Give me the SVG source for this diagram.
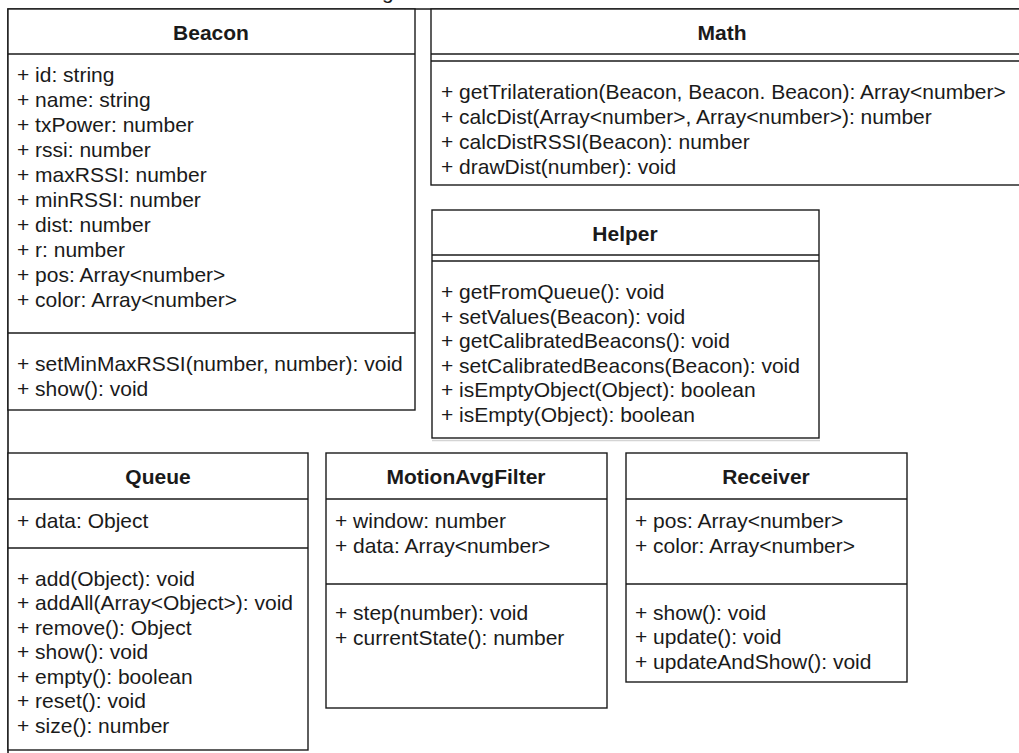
<svg xmlns="http://www.w3.org/2000/svg" width="1019" height="753" viewBox="0 0 1019 753">
<style>
  .box { fill: #ffffff; stroke: #1a1a1a; stroke-width: 1.4; }
  .sep { stroke: #1a1a1a; stroke-width: 1.4; fill: none; }
  .frame { stroke: #1a1a1a; stroke-width: 1.6; fill: none; }
  .shadow { stroke: #d4d4d4; stroke-width: 1.5; fill: none; }
  text { font-family: "Liberation Sans", Arial, Helvetica, sans-serif; font-size: 21px; fill: #1a1a1a; }
  .title { font-weight: bold; text-anchor: middle; }
</style>
<rect x="0" y="0" width="1019" height="753" fill="#ffffff"/>

<text x="382" y="-1">g</text>

<g id="connectors">
  <path class="frame" d="M1022,9 H8 V753"/>
</g>

<g id="Beacon">
  <rect class="box" x="8" y="9" width="407" height="401"/>
  <line class="sep" x1="8" y1="54" x2="415" y2="54"/>
  <line class="sep" x1="8" y1="333" x2="415" y2="333"/>
  <text class="title" x="211" y="40">Beacon</text>
  <text x="17" y="82">+ id: string</text>
  <text x="17" y="107">+ name: string</text>
  <text x="17" y="132">+ txPower: number</text>
  <text x="17" y="157">+ rssi: number</text>
  <text x="17" y="182">+ maxRSSI: number</text>
  <text x="17" y="207">+ minRSSI: number</text>
  <text x="17" y="232">+ dist: number</text>
  <text x="17" y="257">+ r: number</text>
  <text x="17" y="282">+ pos: Array&lt;number&gt;</text>
  <text x="17" y="307">+ color: Array&lt;number&gt;</text>
  <text x="17" y="371">+ setMinMaxRSSI(number, number): void</text>
  <text x="17" y="396">+ show(): void</text>
</g>

<g id="Math">
  <rect class="box" x="431" y="9" width="592" height="176"/>
  <line class="sep" x1="431" y1="54" x2="1023" y2="54"/>
  <line class="sep" x1="431" y1="61" x2="1023" y2="61"/>
  <text class="title" x="722" y="40">Math</text>
  <text x="441" y="99">+ getTrilateration(Beacon, Beacon. Beacon): Array&lt;number&gt;</text>
  <text x="441" y="124">+ calcDist(Array&lt;number&gt;, Array&lt;number&gt;): number</text>
  <text x="441" y="149">+ calcDistRSSI(Beacon): number</text>
  <text x="441" y="174">+ drawDist(number): void</text>
</g>

<g id="Helper">
  <line class="shadow" x1="432" y1="440.5" x2="820" y2="440.5"/>
  <rect class="box" x="432" y="210" width="387" height="228"/>
  <line class="sep" x1="432" y1="255" x2="819" y2="255"/>
  <line class="sep" x1="432" y1="261" x2="819" y2="261"/>
  <text class="title" x="625" y="241">Helper</text>
  <text x="441" y="299">+ getFromQueue(): void</text>
  <text x="441" y="324">+ setValues(Beacon): void</text>
  <text x="441" y="348">+ getCalibratedBeacons(): void</text>
  <text x="441" y="373">+ setCalibratedBeacons(Beacon): void</text>
  <text x="441" y="397">+ isEmptyObject(Object): boolean</text>
  <text x="441" y="422">+ isEmpty(Object): boolean</text>
</g>

<g id="Queue">
  <rect class="box" x="8" y="453" width="300" height="297"/>
  <line class="sep" x1="8" y1="499" x2="308" y2="499"/>
  <line class="sep" x1="8" y1="548" x2="308" y2="548"/>
  <text class="title" x="158" y="484">Queue</text>
  <text x="17" y="528">+ data: Object</text>
  <text x="17" y="586">+ add(Object): void</text>
  <text x="17" y="610">+ addAll(Array&lt;Object&gt;): void</text>
  <text x="17" y="635">+ remove(): Object</text>
  <text x="17" y="659">+ show(): void</text>
  <text x="17" y="684">+ empty(): boolean</text>
  <text x="17" y="708">+ reset(): void</text>
  <text x="17" y="733">+ size(): number</text>
</g>

<g id="MotionAvgFilter">
  <rect class="box" x="326" y="453" width="281" height="255"/>
  <line class="sep" x1="326" y1="499" x2="607" y2="499"/>
  <line class="sep" x1="326" y1="584" x2="607" y2="584"/>
  <text class="title" x="466" y="484">MotionAvgFilter</text>
  <text x="335" y="528">+ window: number</text>
  <text x="335" y="553">+ data: Array&lt;number&gt;</text>
  <text x="335" y="620">+ step(number): void</text>
  <text x="335" y="645">+ currentState(): number</text>
</g>

<g id="Receiver">
  <rect class="box" x="626" y="453" width="281" height="229"/>
  <line class="sep" x1="626" y1="499" x2="907" y2="499"/>
  <line class="sep" x1="626" y1="584" x2="907" y2="584"/>
  <text class="title" x="766" y="484">Receiver</text>
  <text x="635" y="528">+ pos: Array&lt;number&gt;</text>
  <text x="635" y="553">+ color: Array&lt;number&gt;</text>
  <text x="635" y="620">+ show(): void</text>
  <text x="635" y="644">+ update(): void</text>
  <text x="635" y="669">+ updateAndShow(): void</text>
</g>
</svg>
